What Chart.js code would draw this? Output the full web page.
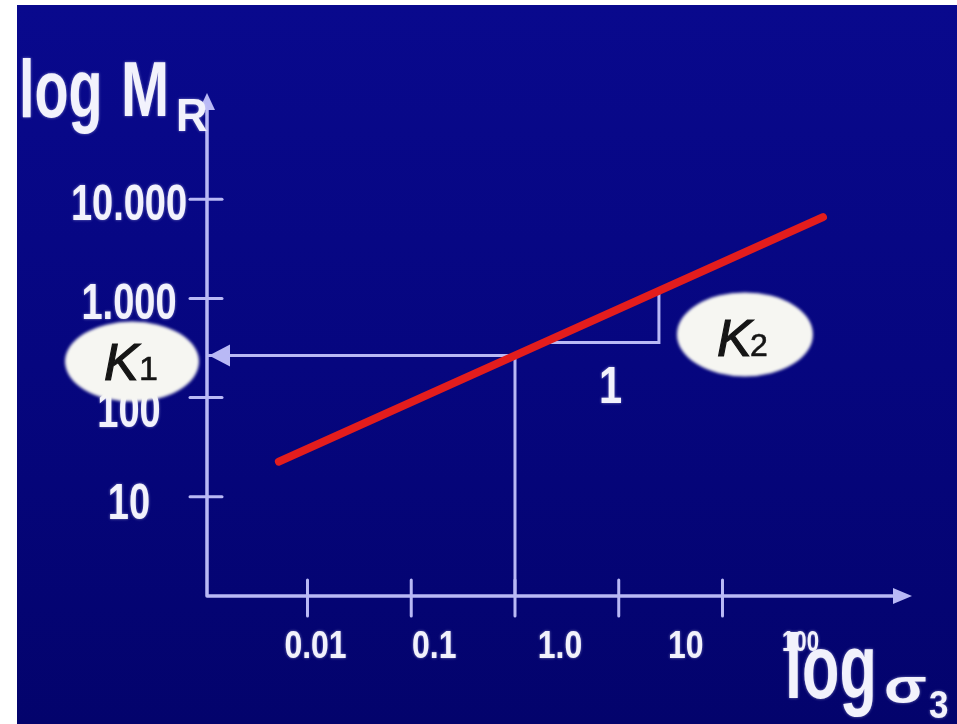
<!DOCTYPE html>
<html>
<head>
<meta charset="utf-8">
<style>
  html, body { margin: 0; padding: 0; background: #fff; overflow: hidden; }
  canvas { display: block; }
</style>
<script src="https://cdn.jsdelivr.net/npm/chart.js@4.4.1/dist/chart.umd.min.js"></script>
</head>
<body>
<canvas id="chart" width="957" height="724"></canvas>
<script>
// Resilient modulus M_R against confining stress sigma_3, both on log scales.
const sigma3Line = [0.0053, 930];      // sigma_3 at the ends of the fitted line
const mrLine = [22.6, 6600];           // M_R at the ends of the fitted line
const k1Sigma = 1;                     // sigma_3 where K1 is read
const k1Value = 265;                   // M_R at sigma_3 = 1 (K1)
const slopeSigma = [1.92, 24.4, 24.4]; // slope triangle (K2), sigma_3
const slopeMR = [360, 360, 1190];      // slope triangle (K2), M_R

const xTickValues = [0.01, 0.1, 1, 10, 100];
const xTickLabels = ['0.01', '0.1', '1.0', '10', '100'];
const yTickValues = [10, 100, 1000, 10000];
const yTickLabels = ['10', '100', '1.000', '10.000'];

const X_MIN = 0.001075, X_MAX = 4600;
const Y_MIN = 1, Y_MAX = 100000;

const FONT = "'Liberation Sans', Arial, sans-serif";
const AXIS_COLOR = '#b9b9f5';
const TEXT_COLOR = '#f2f2fc';
const RED = '#e31d1d';
const INK = '#151515';

// label placement relative to each tick (pixels)
const xLabelShift = [8, 23, 45, 67, 78];
const yLabelShift = [8, 16, 7, 7];

function text(ctx, str, x, y, font, sx, align, baseline, color, glow, stroke) {
  ctx.save();
  ctx.translate(x, y);
  ctx.scale(sx, 1);
  ctx.font = font;
  ctx.fillStyle = color || TEXT_COLOR;
  ctx.textAlign = align || 'center';
  ctx.textBaseline = baseline || 'middle';
  if (glow !== false) {
    ctx.shadowColor = 'rgba(235,235,255,0.5)';
    ctx.shadowBlur = 3;
  }
  ctx.fillText(str, 0, 0);
  if (stroke) {
    ctx.strokeStyle = color;
    ctx.lineWidth = stroke;
    ctx.strokeText(str, 0, 0);
  }
  ctx.restore();
}

function tri(ctx, pts, color) {
  ctx.beginPath();
  ctx.moveTo(pts[0][0], pts[0][1]);
  ctx.lineTo(pts[1][0], pts[1][1]);
  ctx.lineTo(pts[2][0], pts[2][1]);
  ctx.closePath();
  ctx.fillStyle = color;
  ctx.fill();
}

function ellipse(ctx, cx, cy, rx, ry) {
  ctx.save();
  ctx.filter = 'blur(1.5px)';
  ctx.beginPath();
  ctx.ellipse(cx, cy, rx, ry, 0, 0, Math.PI * 2);
  ctx.fillStyle = '#f6f6f2';
  ctx.fill();
  ctx.restore();
}

const slidePlugin = {
  id: 'slide',
  beforeDraw(chart) {
    const { ctx, width, height } = chart;
    ctx.save();
    ctx.fillStyle = '#ffffff';
    ctx.fillRect(0, 0, width, height);
    const g = ctx.createLinearGradient(0, 5, 0, height);
    g.addColorStop(0, '#09098d');
    g.addColorStop(0.5, '#06067f');
    g.addColorStop(1, '#03036c');
    ctx.fillStyle = g;
    ctx.fillRect(17, 5, width - 17, height - 5);
    ctx.restore();
  },
  beforeDatasetsDraw(chart) {
    const { ctx, chartArea: a, scales: { x, y } } = chart;
    ctx.save();
    ctx.strokeStyle = AXIS_COLOR;
    ctx.lineCap = 'round';
    ctx.lineJoin = 'round';
    // axis lines
    ctx.lineWidth = 3.5;
    ctx.beginPath();
    ctx.moveTo(a.left, a.top + 6);
    ctx.lineTo(a.left, a.bottom);
    ctx.lineTo(a.right + 4, a.bottom);
    ctx.stroke();
    tri(ctx, [[a.right + 17, a.bottom], [a.right - 2, a.bottom - 8], [a.right - 2, a.bottom + 8]], AXIS_COLOR);
    tri(ctx, [[a.left, a.top - 7], [a.left - 8, a.top + 10], [a.left + 8, a.top + 10]], AXIS_COLOR);
    // tick marks crossing the axes
    ctx.lineWidth = 3;
    xTickValues.forEach(v => {
      const px = x.getPixelForValue(v);
      ctx.beginPath();
      ctx.moveTo(px, a.bottom - 16);
      ctx.lineTo(px, a.bottom + 20);
      ctx.stroke();
    });
    yTickValues.forEach(v => {
      const py = y.getPixelForValue(v);
      ctx.beginPath();
      ctx.moveTo(a.left - 17, py);
      ctx.lineTo(a.left + 15, py);
      ctx.stroke();
    });
    ctx.restore();
    // tick labels
    xTickValues.forEach((v, i) => {
      const px = x.getPixelForValue(v) + xLabelShift[i];
      if (i === xTickValues.length - 1) {
        text(ctx, xTickLabels[i], px, a.bottom + 47, 'bold 30px ' + FONT, 0.74);
      } else {
        text(ctx, xTickLabels[i], px, a.bottom + 52, 'bold 38px ' + FONT, 0.84);
      }
    });
    yTickValues.forEach((v, i) => {
      const py = y.getPixelForValue(v) + yLabelShift[i];
      text(ctx, yTickLabels[i], 129, py, 'bold 50px ' + FONT, 0.76);
    });
  },
  afterDatasetsDraw(chart) {
    const { ctx, chartArea: a, scales: { x, y } } = chart;
    const k1y = y.getPixelForValue(k1Value);
    // arrow head on the K1 guide
    tri(ctx, [[a.left + 2, k1y], [a.left + 23, k1y - 11], [a.left + 23, k1y + 11]], AXIS_COLOR);

    // K1 bubble
    ellipse(ctx, 132, k1y + 6, 67, 40);
    text(ctx, 'K', 104, k1y + 24, 'italic 52px ' + FONT, 1, 'left', 'alphabetic', INK, false, 1.2);
    text(ctx, '1', 139, k1y + 24, '34px ' + FONT, 1, 'left', 'alphabetic', INK, false, 0.6);

    // K2 bubble next to the slope triangle
    const tx = x.getPixelForValue(slopeSigma[1]);
    const ty = y.getPixelForValue(slopeMR[1]);
    ellipse(ctx, tx + 86, ty - 8, 68, 42);
    text(ctx, 'K', tx + 58, ty + 14, 'italic 52px ' + FONT, 1, 'left', 'alphabetic', INK, false, 1.2);
    text(ctx, '2', tx + 91, ty + 14, '32px ' + FONT, 1, 'left', 'alphabetic', INK, false, 0.6);

    // unit run of the slope triangle
    const rx = x.getPixelForValue(Math.sqrt(slopeSigma[0] * slopeSigma[1]));
    text(ctx, '1', rx + 9, ty + 46, 'bold 52px ' + FONT, 0.8);

    // axis titles
    text(ctx, 'log', 19, 117, 'bold 82px ' + FONT, 0.68, 'left', 'alphabetic');
    text(ctx, 'M', 121, 116, 'bold 78px ' + FONT, 0.74, 'left', 'alphabetic');
    text(ctx, 'R', 176, 131, 'bold 46px ' + FONT, 0.95, 'left', 'alphabetic');
    text(ctx, 'log', 785, 698, 'bold 90px ' + FONT, 0.68, 'left', 'alphabetic');
    text(ctx, 'σ', 884, 703, 'bold 48px ' + FONT, 1.3, 'left', 'alphabetic');
    text(ctx, '3', 929, 718, 'bold 38px ' + FONT, 0.92, 'left', 'alphabetic');
  }
};

const linePoints = sigma3Line.map((s, i) => ({ x: s, y: mrLine[i] }));
const k1Guide = [
  { x: X_MIN, y: k1Value },
  { x: k1Sigma, y: k1Value },
  { x: k1Sigma, y: Y_MIN }
];
const slopePoints = slopeSigma.map((s, i) => ({ x: s, y: slopeMR[i] }));

new Chart(document.getElementById('chart'), {
  type: 'scatter',
  data: {
    datasets: [
      {
        label: 'M_R',
        data: linePoints,
        showLine: true,
        borderColor: RED,
        borderWidth: 8,
        borderCapStyle: 'round',
        pointRadius: 0,
        clip: false
      },
      {
        label: 'K1',
        data: k1Guide,
        showLine: true,
        borderColor: AXIS_COLOR,
        borderWidth: 3,
        pointRadius: 0,
        clip: false
      },
      {
        label: 'K2',
        data: slopePoints,
        showLine: true,
        borderColor: AXIS_COLOR,
        borderWidth: 3,
        borderJoinStyle: 'miter',
        pointRadius: 0,
        clip: false
      }
    ]
  },
  options: {
    responsive: false,
    animation: false,
    devicePixelRatio: 1,
    events: [],
    layout: { padding: { left: 207, right: 62, top: 100, bottom: 128 } },
    plugins: { legend: { display: false }, tooltip: { enabled: false } },
    scales: {
      x: { type: 'logarithmic', display: false, min: X_MIN, max: X_MAX },
      y: { type: 'logarithmic', display: false, min: Y_MIN, max: Y_MAX }
    }
  },
  plugins: [slidePlugin]
});
</script>
</body>
</html>
